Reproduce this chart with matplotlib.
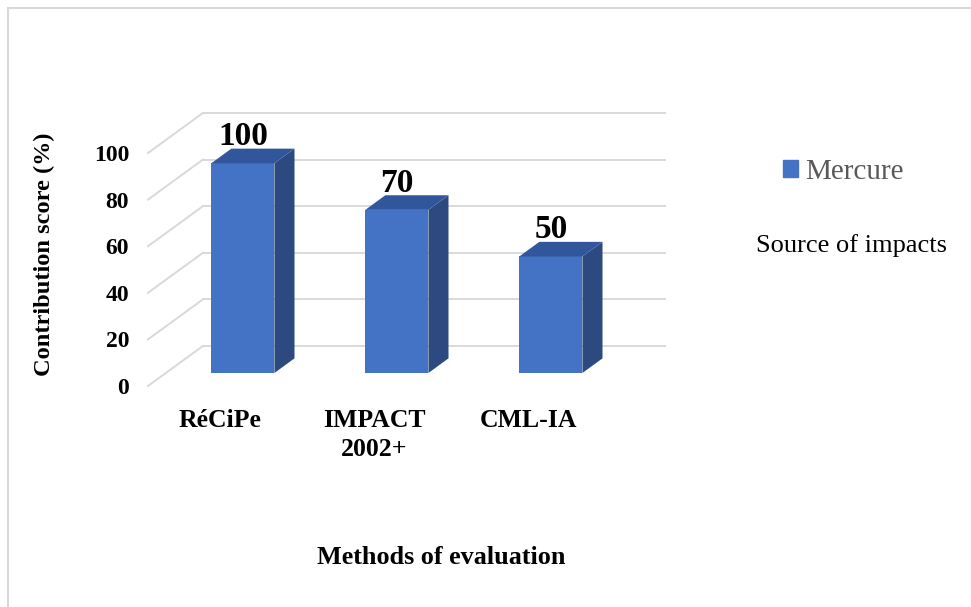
import matplotlib
matplotlib.use("Agg")
import matplotlib.pyplot as plt
from matplotlib.patches import Patch, Rectangle

plt.rcParams['font.family'] = ['Liberation Serif', 'DejaVu Serif']

# data
methods = ["RéCiPe", "IMPACT\n2002+", "CML-IA"]
bar_heights = [90, 70, 50]          # drawn height of each column
bar_labels = ["100", "70", "50"]    # label printed above each column
y_ticks = [0, 20, 40, 60, 80, 100]
series_name = "Mercure"

FRONT = '#4472C4'
SIDE = '#2C4A7F'
TOP = '#31569B'
GRID = '#D9D9D9'

# fake 3d: depth offset of the back wall in data units
DX = 0.357
DY = 17.2
D0, D1 = 0.325, 0.69   # front and back of the columns along the depth
HALF_W = 0.205

W, H = 971, 607
fig = plt.figure(figsize=(W / 100, H / 100), dpi=100)
# one category = 154 px, 1 value unit = 2.33 px
ax = fig.add_axes([148 / W, (H - 386) / H, 3.6 * 154 / W, 125 * 2.33 / H])
ax.set_xlim(0, 3.6)
ax.set_ylim(0, 125)
for s in ax.spines.values():
    s.set_visible(False)

# gridlines: diagonal on the side wall, horizontal on the back wall
n = len(methods)
for v in y_ticks:
    ax.plot([0, DX], [v, v + DY], color=GRID, lw=1.4, clip_on=False, zorder=1)
    ax.plot([DX, n + DX], [v + DY, v + DY], color=GRID, lw=1.4, clip_on=False, zorder=1)

# columns
for i, v in enumerate(bar_heights):
    xl = i + 0.5 - HALF_W
    xr = i + 0.5 + HALF_W
    fx0, fy0 = D0 * DX, D0 * DY
    bx0, by0 = D1 * DX, D1 * DY
    ax.fill([xl + fx0, xr + fx0, xr + fx0, xl + fx0], [fy0, fy0, v + fy0, v + fy0],
            color=FRONT, lw=0, zorder=3, clip_on=False)
    ax.fill([xr + fx0, xr + bx0, xr + bx0, xr + fx0], [fy0, by0, v + by0, v + fy0],
            color=SIDE, lw=0, zorder=3, clip_on=False)
    ax.fill([xl + fx0, xr + fx0, xr + bx0, xl + bx0], [v + fy0, v + fy0, v + by0, v + by0],
            color=TOP, lw=0, zorder=3, clip_on=False)
    ax.text(i + 0.5 + fx0, v + by0 - 1.5, bar_labels[i], ha='center', va='bottom',
            fontsize=24, fontweight='bold', zorder=4)

ax.set_yticks(y_ticks)
ax.set_yticklabels([str(t) for t in y_ticks], fontsize=17, fontweight='bold')
ax.set_xticks([i + 0.47 for i in range(n)])
ax.set_xticklabels(methods, fontsize=18.5, fontweight='bold', linespacing=1.35)
ax.tick_params(axis='y', length=0, pad=13.5)
ax.tick_params(axis='x', length=0, pad=16.5)

fig.text(44 / W, 1 - 254 / H, "Contribution score (%)", rotation=90, ha='center',
         va='center', fontsize=17.6, fontweight='bold')
fig.text(441 / W, 1 - 557 / H, "Methods of evaluation", ha='center', va='center',
         fontsize=18.8, fontweight='bold')

leg = fig.legend(handles=[Patch(color=FRONT, label=series_name)], loc='center left',
                 bbox_to_anchor=(783 / W, 1 - 172 / H), frameon=False, fontsize=21,
                 handlelength=0.5, handleheight=0.5, handletextpad=0.25,
                 borderpad=0, borderaxespad=0)
for t in leg.get_texts():
    t.set_color('#595959')

fig.text(851 / W, 1 - 246 / H, "Source of impacts", ha='center', va='center', fontsize=19)

# chart border (only top and left edges are inside the picture)
fig.add_artist(Rectangle((8 / W, -0.1), 1.2, 1.1 - 8 / H, transform=fig.transFigure,
                         fill=False, edgecolor='#D9D9D9', lw=1.5))

fig.savefig("out.png", dpi=100)
